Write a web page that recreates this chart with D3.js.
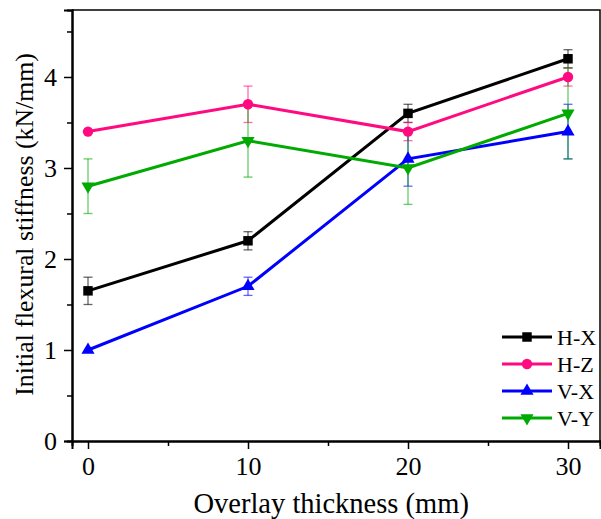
<!DOCTYPE html>
<html>
<head>
<meta charset="utf-8">
<script src="https://cdn.jsdelivr.net/npm/d3@7"></script>
<style>
  body { margin: 0; background: #fff; }
  text { font-family: "Liberation Serif", "Times New Roman", serif; }
</style>
</head>
<body>
<div id="container"></div>
<script>
var width = 601,
    height = 519;

// data
var thickness = [0, 10, 20, 30];
var seriesNames = ["H-X", "H-Z", "V-X", "V-Y"];
var hx = [1.65, 2.2, 3.6, 4.2];
var hxErr = [0.15, 0.1, 0.1, 0.1];
var hz = [3.4, 3.7, 3.4, 4.0];
var hzErr = [0, 0.2, 0.1, 0.1];
var vx = [1.0, 1.7, 3.1, 3.4];
var vxErr = [0, 0.1, 0.3, 0.3];
var vy = [2.8, 3.3, 3.0, 3.6];
var vyErr = [0.3, 0.4, 0.4, 0.5];
var yTicks = [0, 1, 2, 3, 4];
var xTicks = [0, 10, 20, 30];

var colors = ["#000000", "#ff0a80", "#0000ff", "#00aa00"];
var symbols = [d3.symbolSquare, d3.symbolCircle, d3.symbolTriangle, d3.symbolTriangle];
var symSizes = [90, 85, 75, 75];

var series = [
    {name: seriesNames[0], y: hx, err: hxErr},
    {name: seriesNames[1], y: hz, err: hzErr},
    {name: seriesNames[2], y: vx, err: vxErr},
    {name: seriesNames[3], y: vy, err: vyErr}
];

var margin = {left: 72, right: 1, top: 10, bottom: 78};

var x = d3.scaleLinear().domain([-1, 32]).range([margin.left, width - margin.right]);
var y = d3.scaleLinear().domain([0, 4.736]).range([height - margin.bottom, margin.top]);

var svg = d3.select("#container").append("svg")
    .attr("width", width)
    .attr("height", height);

// frame (top / right)
svg.append("path")
    .attr("d", "M" + x(-1) + "," + y(4.736) + "H" + x(32) + "V" + y(0))
    .attr("fill", "none")
    .attr("stroke", "#000")
    .attr("stroke-width", 1.5);

// axes
svg.append("g")
    .attr("transform", "translate(0," + y(0) + ")")
    .call(d3.axisBottom(x).tickValues(xTicks).tickSize(8).tickPadding(8).tickFormat(d3.format("d")));
svg.append("g")
    .attr("transform", "translate(0," + y(0) + ")")
    .call(d3.axisBottom(x).tickValues([5, 15, 25]).tickSize(5).tickFormat(""));

svg.append("g")
    .attr("transform", "translate(" + x(-1) + ",0)")
    .call(d3.axisLeft(y).tickValues(yTicks).tickSize(8).tickPadding(7).tickFormat(d3.format("d")));
svg.append("g")
    .attr("transform", "translate(" + x(-1) + ",0)")
    .call(d3.axisLeft(y).tickValues([0.5, 1.5, 2.5, 3.5, 4.5]).tickSize(5).tickFormat(""));

svg.selectAll(".domain").attr("stroke-width", 2).attr("stroke", "#000");
svg.selectAll(".tick line").attr("stroke-width", 1.5);
svg.selectAll(".tick text")
    .attr("font-size", 26)
    .attr("fill", "#000");

// axis titles
svg.append("text")
    .attr("x", x(15.2))
    .attr("y", 513)
    .attr("text-anchor", "middle")
    .attr("font-size", 28.5)
    .text("Overlay thickness (mm)");

svg.append("text")
    .attr("transform", "translate(33," + y(2.38) + ") rotate(-90)")
    .attr("text-anchor", "middle")
    .attr("font-size", 25.8)
    .text("Initial flexural stiffness (kN/mm)");

// error bars
series.forEach(function(s, i) {
    var g = svg.append("g").attr("stroke", colors[i]).attr("stroke-opacity", 0.6).attr("stroke-width", 1.3);
    thickness.forEach(function(t, j) {
        if (s.err[j] <= 0) return;
        var cx = x(t), y1 = y(s.y[j] - s.err[j]), y2 = y(s.y[j] + s.err[j]);
        g.append("line").attr("x1", cx).attr("x2", cx).attr("y1", y1).attr("y2", y2);
        g.append("line").attr("x1", cx - 4.5).attr("x2", cx + 4.5).attr("y1", y1).attr("y2", y1);
        g.append("line").attr("x1", cx - 4.5).attr("x2", cx + 4.5).attr("y1", y2).attr("y2", y2);
    });
});

// lines and markers
var line = d3.line()
    .x(function(d) { return x(d[0]); })
    .y(function(d) { return y(d[1]); });

function marker(sel, i) {
    sel.attr("d", d3.symbol().type(symbols[i]).size(symSizes[i]))
        .attr("fill", colors[i]);
}

series.forEach(function(s, i) {
    var pts = thickness.map(function(t, j) { return [t, s.y[j]]; });
    svg.append("path")
        .datum(pts)
        .attr("d", line)
        .attr("fill", "none")
        .attr("stroke", colors[i])
        .attr("stroke-width", 3);
    svg.selectAll(".m" + i)
        .data(pts)
        .enter().append("path")
        .attr("class", "m" + i)
        .attr("transform", function(d) {
            return "translate(" + x(d[0]) + "," + y(d[1]) + ")" + (i === 3 ? " rotate(180)" : "");
        })
        .call(marker, i);
});

// legend
var legend = svg.append("g");
series.forEach(function(s, i) {
    var ly = 337 + i * 27;
    legend.append("line")
        .attr("x1", 502).attr("x2", 552)
        .attr("y1", ly).attr("y2", ly)
        .attr("stroke", colors[i])
        .attr("stroke-width", 3);
    legend.append("path")
        .attr("transform", "translate(527," + ly + ")" + (i === 3 ? " rotate(180)" : ""))
        .call(marker, i);
    legend.append("text")
        .attr("x", 557)
        .attr("y", ly + 8)
        .attr("font-size", 22)
        .text(s.name);
});
</script>
</body>
</html>
